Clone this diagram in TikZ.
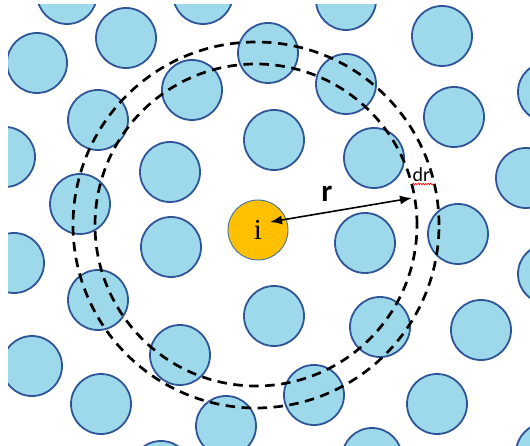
\documentclass[tikz,border=0pt]{standalone}
\usepackage{fontspec}
\setsansfont{Carlito}
\newfontfamily\serifi{Liberation Serif}
\usetikzlibrary{arrows.meta,decorations.pathmorphing}
\definecolor{particlefill}{RGB}{157,217,234}
\definecolor{particleline}{RGB}{47,85,151}
\definecolor{centreorange}{RGB}{255,192,0}
\definecolor{centreline}{RGB}{65,113,156}

\tikzset{
    particle/.style={circle, fill=particlefill, draw=particleline, line width=1.8pt,
        minimum size=60pt, inner sep=0pt},
    shell/.style={dashed, dash pattern=on 9.5pt off 6.5pt, line width=2.7pt, black},
}

\begin{document}
\begin{tikzpicture}[x=1pt, y=-1pt]

    % 1. 画布与裁剪
    \useasboundingbox (0,0) rectangle (530,446);
    \clip (8,5) rectangle (530,446);

    % 2. 周围的粒子
    \foreach \px/\py [count=\n] in {67/-6, 203/-6, 346/0, 126/38, 37/63, 268/53, 192/90,
        346/84, 442/36, 98/120, 5/157, 170/172, 274/140, 374/158, 454/117, 548/92,
        526/178, 80/204, 365/243, 458/234, 171/247, 14/263, 98/300, 274/316, 380/327,
        481/330, 548/274, 32/366, 180/355, 101/404, 226/426, 314/395, 437/404,
        161/471, 372/458, 546/453}
        \node[particle] (p\n) at (\px,\py) {};

    % 3. 中心粒子 i
    \node[particle, fill=centreorange, draw=centreline, line width=0.9pt,
        font=\serifi\fontsize{29}{29}\selectfont] (i) at (258,230) {i};

    % 4. 两个虚线球壳 (r 与 r+dr)
    \draw[shell] (256,225) circle[radius=161pt];
    \draw[shell] (256,225) circle[radius=183pt];

    % 5. 半径箭头 r
    \coordinate (inner) at (270,222);
    \coordinate (shellpt) at (412,198);
    \draw[{Latex[length=12pt,width=9pt]}-{Latex[length=12pt,width=9pt]}, line width=1.6pt]
        (inner) -- (shellpt);
    \node[font=\sffamily\bfseries\fontsize{31}{31}\selectfont] (rlab) at (327,194) {r};

    % 6. 壳层厚度 dr
    \node[font=\sffamily\fontsize{20}{20}\selectfont, inner sep=0pt, anchor=south west]
        (drlab) at (412.5,181.5) {dr};
    \draw[red, line width=0.6pt, decorate,
        decoration={snake, amplitude=0.8pt, segment length=2.5pt}]
        ([yshift=-2.5pt]drlab.south west) -- ++(21,0);

\end{tikzpicture}
\end{document}
